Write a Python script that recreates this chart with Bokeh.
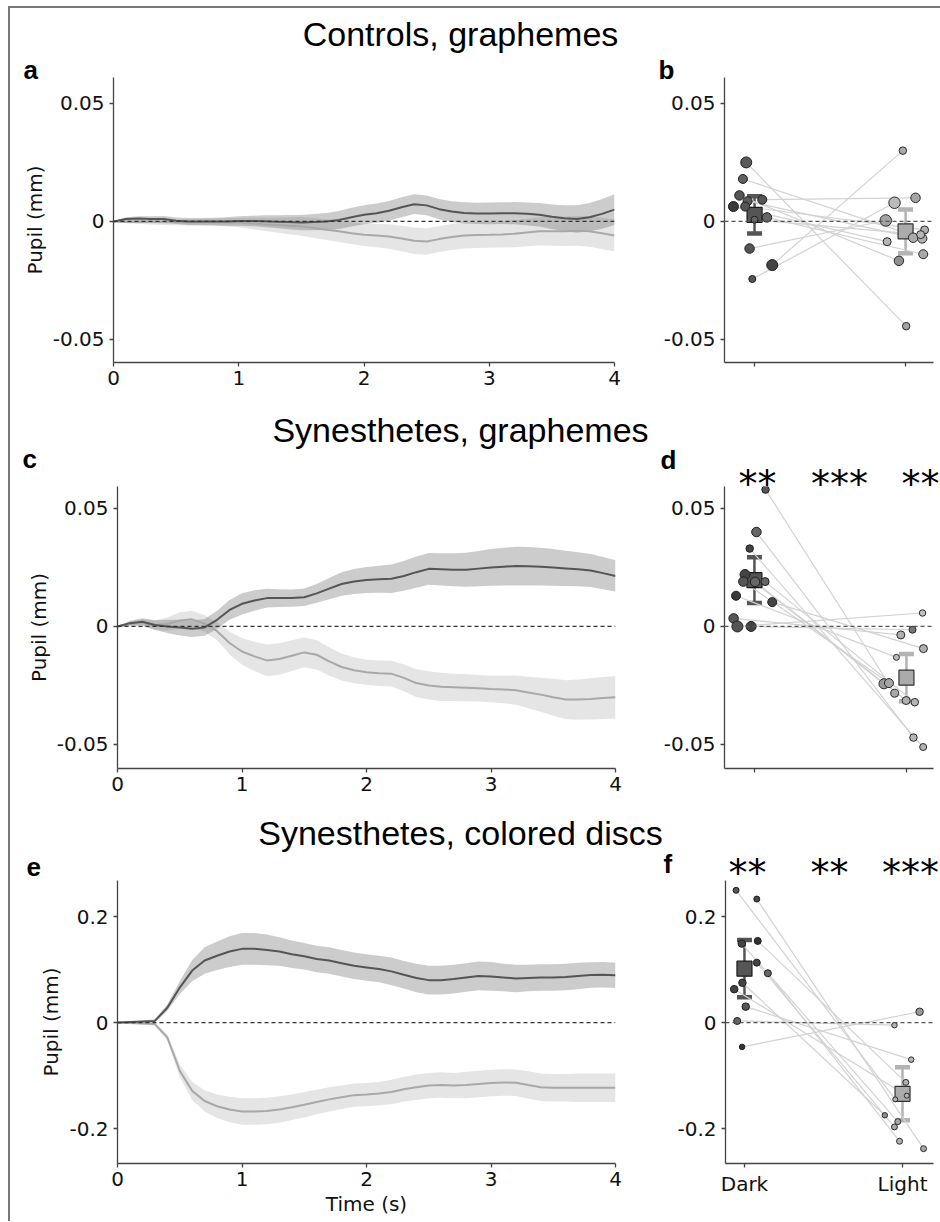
from bokeh.plotting import figure
from bokeh.layouts import column, row
from bokeh.models import Range1d, FixedTicker, Span, Label, Whisker, TeeHead, ColumnDataSource
from bokeh.embed import file_html
from bokeh.resources import INLINE

# ---------------- data ----------------
titles = ["Controls, graphemes", "Synesthetes, graphemes", "Synesthetes, colored discs"]
letters = ["a", "b", "c", "d", "e", "f"]
categories = ["Dark", "Light"]
time_label = "Time (s)"
pupil_label = "Pupil (mm)"

time_s = [0.0, 0.1, 0.2, 0.3, 0.4, 0.5, 0.6, 0.7, 0.8, 0.9, 1.0, 1.1, 1.2, 1.3, 1.4, 1.5, 1.6, 1.7, 1.8, 1.9,
          2.0, 2.1, 2.2, 2.3, 2.4, 2.5, 2.6, 2.7, 2.8, 2.9, 3.0, 3.1, 3.2, 3.3, 3.4, 3.5, 3.6, 3.7, 3.8, 3.9, 4.0]
time_ticks = [0, 1, 2, 3, 4]

# panel a : controls, graphemes
a_dark_mean = [0, 0.001, 0.0012, 0.001, 0.001, 0.0003, 0, 0, 0, 0, 0.0002, 0.0002, 0.0001, -0.0001, -0.0003,
               -0.0005, -0.0003, 0, 0.0006, 0.0018, 0.0028, 0.0035, 0.0045, 0.006, 0.0073, 0.0068, 0.0052, 0.0042,
               0.0036, 0.0034, 0.0034, 0.0035, 0.0035, 0.0032, 0.0028, 0.002, 0.0013, 0.001, 0.0018, 0.0032, 0.005]
a_dark_sem = [0, 0.0008, 0.001, 0.0012, 0.0013, 0.0014, 0.0015, 0.0015, 0.0016, 0.0018, 0.002, 0.0022, 0.0025,
              0.0027, 0.003, 0.0032, 0.0034, 0.0036, 0.0038, 0.004, 0.004, 0.0041, 0.0042, 0.0042, 0.0042, 0.0042,
              0.0043, 0.0044, 0.0045, 0.0045, 0.0046, 0.0046, 0.0047, 0.0048, 0.005, 0.0052, 0.0055, 0.0058, 0.006,
              0.0063, 0.0065]
a_light_mean = [0, -0.0002, -0.0003, -0.0003, -0.0004, -0.0004, -0.0004, -0.0004, -0.0004, -0.0004, -0.0005,
                -0.0008, -0.0012, -0.0015, -0.0018, -0.0021, -0.0028, -0.0035, -0.0042, -0.005, -0.0057, -0.006,
                -0.0064, -0.0072, -0.0082, -0.0085, -0.0075, -0.0066, -0.006, -0.0058, -0.0057, -0.0055, -0.0052,
                -0.0047, -0.0042, -0.0042, -0.0042, -0.004, -0.0042, -0.005, -0.006]
a_light_sem = [0, 0.0006, 0.0008, 0.001, 0.0011, 0.0012, 0.0013, 0.0014, 0.0015, 0.0017, 0.002, 0.0024, 0.0028,
               0.0032, 0.0036, 0.004, 0.0042, 0.0044, 0.0045, 0.0046, 0.0047, 0.0049, 0.0052, 0.0054, 0.0056, 0.0056,
               0.0055, 0.0055, 0.0055, 0.0055, 0.0055, 0.0056, 0.0057, 0.0058, 0.006, 0.0061, 0.0062, 0.0063, 0.0065,
               0.0067, 0.0068]

# panel c : synesthetes, graphemes
c_dark_mean = [0, 0.0014, 0.002, 0.0006, 0, -0.0005, -0.001, -0.0004, 0.0028, 0.007, 0.0096, 0.011, 0.012, 0.012,
               0.012, 0.0124, 0.014, 0.016, 0.018, 0.019, 0.0197, 0.02, 0.0202, 0.0214, 0.023, 0.0244, 0.0242, 0.024,
               0.024, 0.0245, 0.025, 0.0253, 0.0256, 0.0255, 0.0253, 0.025, 0.0246, 0.0242, 0.0237, 0.0226, 0.0214]
c_dark_sem = [0, 0.001, 0.0015, 0.002, 0.0028, 0.0033, 0.0035, 0.0035, 0.0038, 0.0042, 0.0045, 0.0043, 0.004,
              0.0038, 0.0037, 0.0037, 0.004, 0.0045, 0.005, 0.0053, 0.0055, 0.0057, 0.006, 0.0063, 0.0066, 0.0067,
              0.0068, 0.007, 0.0072, 0.0075, 0.0078, 0.008, 0.0082, 0.0082, 0.008, 0.0078, 0.0075, 0.0072, 0.007,
              0.0068, 0.0066]
c_light_mean = [0, 0.001, 0.0015, 0.0005, 0.001, 0.0025, 0.003, 0.0012, -0.002, -0.007, -0.0106, -0.0127, -0.0144,
                -0.0138, -0.0124, -0.011, -0.012, -0.0148, -0.0172, -0.0186, -0.0194, -0.0198, -0.02, -0.0218,
                -0.024, -0.025, -0.0256, -0.0258, -0.026, -0.0262, -0.0265, -0.0267, -0.027, -0.028, -0.0289, -0.03,
                -0.031, -0.031, -0.0307, -0.0303, -0.03]
c_light_sem = [0, 0.001, 0.0015, 0.002, 0.0028, 0.0035, 0.0037, 0.0035, 0.0038, 0.0048, 0.0056, 0.0062, 0.0067,
               0.0067, 0.0065, 0.0063, 0.0062, 0.006, 0.0057, 0.0055, 0.0053, 0.0054, 0.0055, 0.0057, 0.0059, 0.006,
               0.006, 0.0058, 0.0057, 0.0056, 0.0056, 0.0058, 0.0062, 0.0067, 0.0072, 0.0078, 0.0082, 0.0085, 0.0087,
               0.0089, 0.009]

# panel e : synesthetes, colored discs
e_dark_mean = [0, 0.001, 0.002, 0.003, 0.028, 0.066, 0.098, 0.117, 0.126, 0.134, 0.139, 0.139, 0.137, 0.134, 0.129,
               0.125, 0.12, 0.117, 0.112, 0.107, 0.104, 0.101, 0.0965, 0.09, 0.084, 0.08, 0.08, 0.082, 0.085, 0.088,
               0.087, 0.085, 0.083, 0.084, 0.085, 0.085, 0.086, 0.088, 0.0896, 0.09, 0.089]
e_dark_sem = [0, 0.001, 0.002, 0.003, 0.006, 0.012, 0.02, 0.025, 0.027, 0.029, 0.03, 0.03, 0.029, 0.027, 0.026,
              0.025, 0.025, 0.025, 0.025, 0.025, 0.025, 0.025, 0.026, 0.026, 0.027, 0.027, 0.027, 0.027, 0.027,
              0.027, 0.027, 0.026, 0.026, 0.025, 0.025, 0.025, 0.025, 0.025, 0.024, 0.024, 0.024]
e_light_mean = [0, -0.001, -0.002, -0.003, -0.028, -0.091, -0.129, -0.148, -0.158, -0.164, -0.168, -0.168, -0.167,
                -0.164, -0.16, -0.155, -0.15, -0.145, -0.141, -0.137, -0.136, -0.134, -0.131, -0.126, -0.122,
                -0.119, -0.118, -0.119, -0.118, -0.116, -0.114, -0.113, -0.1136, -0.118, -0.122, -0.123, -0.123,
                -0.123, -0.123, -0.123, -0.123]
e_light_sem = [0, 0.001, 0.002, 0.003, 0.006, 0.012, 0.017, 0.02, 0.022, 0.024, 0.025, 0.025, 0.025, 0.025, 0.024,
               0.024, 0.023, 0.023, 0.022, 0.022, 0.022, 0.022, 0.023, 0.023, 0.024, 0.024, 0.024, 0.024, 0.025,
               0.025, 0.025, 0.025, 0.025, 0.026, 0.026, 0.026, 0.026, 0.027, 0.027, 0.027, 0.027]

# panel b : per-subject means (dark -> light paired), jitter
b_dark_y = [0.025, 0.018, 0.011, 0.0086, 0.0063, 0.0063, 0.0092, 0.0007, 0.0017, -0.0115, -0.0185, -0.0244]
b_light_y = [-0.0444, -0.0072, -0.0167, -0.0069, -0.0086, -0.0036, 0.010, -0.0056, -0.0139, 0.0004, 0.030, 0.0079]
b_dark_jitter = [-0.055, -0.077, -0.10, -0.046, -0.14, -0.062, 0.051, 0.0, 0.082, -0.033, 0.117, -0.015]
b_light_jitter = [0.004, 0.11, -0.044, 0.05, -0.122, 0.126, 0.066, 0.1, 0.117, -0.131, -0.018, -0.073]
b_dark_weight = [11, 9, 9.5, 9, 10, 9, 9, 7, 9.5, 9.5, 11, 7]
b_light_weight = [7.5, 9.5, 9.5, 9.5, 8, 8, 9.5, 8, 9, 11.5, 7.5, 11.5]
b_dark_shade = ["#5a5a5a", "#606060", "#555555", "#5a5a5a", "#3a3a3a", "#555555", "#555555", "#666666",
                "#666666", "#555555", "#444444", "#555555"]
b_light_shade = ["#a3a3a3", "#b0b0b0", "#8f8f8f", "#ababab", "#b5b5b5", "#b0b0b0", "#a5a5a5", "#b8b8b8",
                 "#a8a8a8", "#a3a3a3", "#aaaaaa", "#bababa"]
b_mean = [0.0028, -0.0042]
b_err = [0.0079, 0.0093]

# panel d
d_dark_y = [0.058, 0.040, 0.033, 0.022, 0.019, 0.0189, 0.019, 0.013, 0.0103, 0.0034, 0.0, 0.0]
d_light_y = [-0.0283, -0.0471, -0.0511, -0.0243, -0.024, -0.0314, -0.0321, -0.0131, -0.0094, -0.0036, 0.0057,
             -0.0014]
d_dark_jitter = [0.073, 0.013, -0.031, -0.062, -0.073, 0.004, 0.07, -0.121, 0.117, -0.137, -0.112, -0.022]
d_light_jitter = [-0.077, 0.046, 0.11, -0.148, -0.115, -0.002, 0.055, -0.066, 0.112, -0.037, 0.106, 0.04]
d_dark_weight = [7.5, 9.5, 7.5, 10, 9.5, 9.5, 8, 9, 9, 9.5, 11, 10]
d_light_weight = [8, 7.5, 7, 10, 9, 8, 7.5, 6, 8, 8, 6.5, 7]
d_dark_shade = ["#555555", "#666666", "#444444", "#444444", "#555555", "#666666", "#666666", "#3a3a3a",
                "#444444", "#555555", "#555555", "#444444"]
d_light_shade = ["#a8a8a8", "#b5b5b5", "#b5b5b5", "#9a9a9a", "#a5a5a5", "#b0b0b0", "#b5b5b5", "#bdbdbd",
                 "#b0b0b0", "#b0b0b0", "#c0c0c0", "#777777"]
d_mean = [0.0196, -0.0217]
d_err = [0.0097, 0.0100]
d_stars = ["**", "***", "**"]

# panel f
f_dark_y = [0.2495, 0.233, 0.149, 0.154, 0.113, 0.093, 0.075, 0.063, 0.030, 0.003, -0.046]
f_light_y = [-0.145, -0.238, -0.187, -0.113, -0.197, -0.224, -0.175, -0.138, -0.07, -0.005, 0.0203]
f_dark_jitter = [-0.053, 0.078, -0.017, 0.084, 0.078, 0.148, -0.013, -0.065, 0.008, -0.046, -0.015]
f_light_jitter = [-0.046, 0.133, -0.03, 0.021, -0.051, -0.019, -0.112, 0.027, 0.055, -0.051, 0.108]
f_dark_weight = [6, 6, 7.5, 7, 7, 7, 7.5, 7.5, 7.5, 7, 5.5]
f_light_weight = [5, 6, 6, 6, 6, 6, 5.5, 5, 5.5, 5.5, 7.5]
f_dark_shade = ["#555555", "#444444", "#444444", "#333333", "#444444", "#666666", "#444444", "#444444",
                "#555555", "#666666", "#333333"]
f_light_shade = ["#b0b0b0", "#a8a8a8", "#a8a8a8", "#b0b0b0", "#a8a8a8", "#b0b0b0", "#8a8a8a", "#b5b5b5",
                 "#b5b5b5", "#b5b5b5", "#999999"]
f_mean = [0.1016, -0.1346]
f_err = [0.054, 0.050]
f_stars = ["**", "**", "***"]

comparisons = [0, 0.5, 1]     # dark vs 0, dark vs light, light vs 0
small_ticks = [-0.05, 0, 0.05]
small_tick_text = ["-0.05", "0", "0.05"]
big_ticks = [-0.2, 0, 0.2]
big_tick_text = ["-0.2", "0", "0.2"]

# ---------------- style / layout ----------------
SANS = "DejaVu Sans"
HEAD = "Liberation Sans"
AXC = "#444444"
DARK = "#555555"
LIGHT = "#a8a8a8"
DARK_BAR = "#555555"
LIGHT_BAR = "#b3b3b3"
LEFT_W = 630
TOTAL_W = 930
OV = 30          # the text strip above each row reaches this far down behind the (transparent) row


def base_fig(fw, fh, bl, br, bb, xr, yr, yticks, ytext):
    p = figure(frame_width=fw, frame_height=fh,
               min_border_left=bl, min_border_right=br, min_border_top=0, min_border_bottom=bb,
               x_range=Range1d(*xr), y_range=Range1d(*yr),
               output_backend="svg", toolbar_location=None)
    p.grid.visible = False
    p.outline_line_color = None
    p.background_fill_color = None
    p.border_fill_color = None
    for ax in p.axis:
        ax.axis_line_color = AXC
        ax.axis_line_width = 1.3
        ax.major_tick_line_color = AXC
        ax.major_tick_line_width = 1.3
        ax.major_tick_in = 0
        ax.major_tick_out = 4
        ax.minor_tick_line_color = None
        ax.major_label_text_font = SANS
        ax.major_label_text_font_size = "20px"
        ax.major_label_text_color = "#111111"
        ax.axis_label_text_font = SANS
        ax.axis_label_text_font_size = "20px"
        ax.axis_label_text_font_style = "normal"
        ax.axis_label_text_color = "#111111"
    p.yaxis.ticker = FixedTicker(ticks=yticks)
    p.yaxis.major_label_overrides = dict(zip(yticks, ytext))
    p.yaxis.major_label_standoff = 5
    p.xaxis.major_label_standoff = 4
    return p


def time_panel(bl, br, bb, fw, fh, yr, yticks, ytext, dm, ds, lm, ls, xlabel=None):
    p = base_fig(fw, fh, bl, br, bb, (0, 4), yr, yticks, ytext)
    p.xaxis.ticker = FixedTicker(ticks=time_ticks)
    p.yaxis.axis_label = pupil_label
    p.yaxis.axis_label_standoff = 3
    if xlabel:
        p.xaxis.axis_label = xlabel
        p.xaxis.axis_label_standoff = 3
    p.varea(x=time_s, y1=[m - s for m, s in zip(lm, ls)], y2=[m + s for m, s in zip(lm, ls)],
            fill_color=LIGHT, fill_alpha=0.3)
    p.varea(x=time_s, y1=[m - s for m, s in zip(dm, ds)], y2=[m + s for m, s in zip(dm, ds)],
            fill_color=DARK, fill_alpha=0.3)
    p.add_layout(Span(location=0, dimension="width", line_color="#333333", line_dash="4 3", line_width=1.2))
    p.line(time_s, lm, line_color=LIGHT, line_width=2)
    p.line(time_s, dm, line_color=DARK, line_width=2)
    return p


def dot_panel(bl, br, bb, fw, fh, xr, yr, yticks, ytext, dy, ly, dj, lj, dw, lw, dsh, lsh, mean, err, xtext):
    p = base_fig(fw, fh, bl, br, bb, xr, yr, yticks, ytext)
    p.xaxis.ticker = FixedTicker(ticks=[0, 1])
    p.xaxis.major_label_overrides = {0: xtext[0], 1: xtext[1]}
    dx = [0 + j for j in dj]
    lx = [1 + j for j in lj]
    p.segment(x0=dx, y0=dy, x1=lx, y1=ly, line_color="#d2d2d2", line_width=1.2)
    p.add_layout(Span(location=0, dimension="width", line_color="#555555", line_dash="4 3", line_width=1.2))
    for i, col in enumerate([DARK_BAR, LIGHT_BAR]):
        src = ColumnDataSource(dict(base=[i], upper=[mean[i] + err[i]], lower=[mean[i] - err[i]]))
        p.add_layout(Whisker(source=src, base="base", upper="upper", lower="lower",
                             line_color=col, line_width=2.5,
                             upper_head=TeeHead(size=15, line_color=col, line_width=4.5),
                             lower_head=TeeHead(size=15, line_color=col, line_width=4.5)))
    p.scatter(x=[0], y=[mean[0]], marker="square", size=15, fill_color="#555555", line_color="#1a1a1a",
              line_width=1.2)
    p.scatter(x=[1], y=[mean[1]], marker="square", size=15, fill_color="#ababab", line_color="#333333",
              line_width=1.2)
    p.scatter(x=dx, y=dy, size=dw, fill_color=dsh, line_color="#1e1e1e", line_width=1)
    p.scatter(x=lx, y=ly, size=lw, fill_color=lsh, line_color="#2a2a2a", line_width=1)
    return p


def band_fig(h, items):
    """Full-width strip above a row: row title, panel letters and significance stars.
    It is OV px taller than its slot and overlaps the top of the (transparent) row below."""
    hh = h + OV
    p = figure(frame_width=TOTAL_W, frame_height=hh, min_border=0,
               x_range=Range1d(0, TOTAL_W), y_range=Range1d(-OV, h),
               x_axis_location=None, y_axis_location=None, output_backend="svg", toolbar_location=None,
               margin=(0, 0, -OV, 0))
    p.grid.visible = False
    p.outline_line_color = None
    p.background_fill_color = None
    p.border_fill_color = None
    for txt, x, y, font, size, style, align in items:
        p.add_layout(Label(x=x, y=y, text=txt, text_font=font, text_font_size=size, text_font_style=style,
                           text_align=align, text_baseline="middle", text_color="black"))
    return p


def star_items(panel, stars, dxs, y):
    xr0, xr1 = panel.x_range.start, panel.x_range.end
    left = LEFT_W + panel.min_border_left
    fw = panel.frame_width
    return [(s, left + (c - xr0) / (xr1 - xr0) * fw + dx, y, SANS, "38px", "normal", "center")
            for c, s, dx in zip(comparisons, stars, dxs)]


# row 1
pa = time_panel(103, 26, 38, 501, 285, (-0.0598, 0.061), small_ticks, small_tick_text,
                a_dark_mean, a_dark_sem, a_light_mean, a_light_sem)
pb = dot_panel(84, 7, 38, 209, 285, (-0.199, 1.185), (-0.0598, 0.061), small_ticks, small_tick_text,
               b_dark_y, b_light_y, b_dark_jitter, b_light_jitter, b_dark_weight, b_light_weight,
               b_dark_shade, b_light_shade, b_mean, b_err, ["", ""])
# row 2
pc = time_panel(107, 25, 36, 498, 282, (-0.0602, 0.0593), small_ticks, small_tick_text,
                c_dark_mean, c_dark_sem, c_light_mean, c_light_sem)
pd = dot_panel(84, 7, 36, 209, 282, (-0.197, 1.178), (-0.0602, 0.0593), small_ticks, small_tick_text,
               d_dark_y, d_light_y, d_dark_jitter, d_light_jitter, d_dark_weight, d_light_weight,
               d_dark_shade, d_light_shade, d_mean, d_err, ["", ""])
# row 3
pe = time_panel(107, 25, 58, 498, 283, (-0.266, 0.268), big_ticks, big_tick_text,
                e_dark_mean, e_dark_sem, e_light_mean, e_light_sem, xlabel=time_label)
pf = dot_panel(85, 7, 58, 208, 283, (-0.120, 1.196), (-0.266, 0.268), big_ticks, big_tick_text,
               f_dark_y, f_light_y, f_dark_jitter, f_light_jitter, f_dark_weight, f_light_weight,
               f_dark_shade, f_light_shade, f_mean, f_err, categories)

T = (HEAD, "34px", "normal", "center")
L = (HEAD, "26px", "bold", "left")
band1 = band_fig(69, [(titles[0], 450, 44) + T,
                      (letters[0], 13, 8) + L, (letters[1], 648, 8) + L])
band2 = band_fig(86, [(titles[1], 450, 57) + T,
                      (letters[2], 12, 28) + L, (letters[3], 650, 27) + L]
                 + star_items(pd, d_stars, [3, 9, 14], 3))
band3 = band_fig(76, [(titles[2], 450, 48) + T,
                      (letters[4], 16, 14) + L, (letters[5], 653, 17) + L]
                 + star_items(pf, f_stars, [3, 6, 8], 8))

layout = column(band1, row(pa, pb), band2, row(pc, pd), band3, row(pe, pf))
layout.styles = {"border-top": "2px solid #777777", "border-left": "2px solid #777777",
                 "margin-left": "8px", "margin-top": "6px"}

open("out.html", "w").write(file_html(layout, INLINE))
